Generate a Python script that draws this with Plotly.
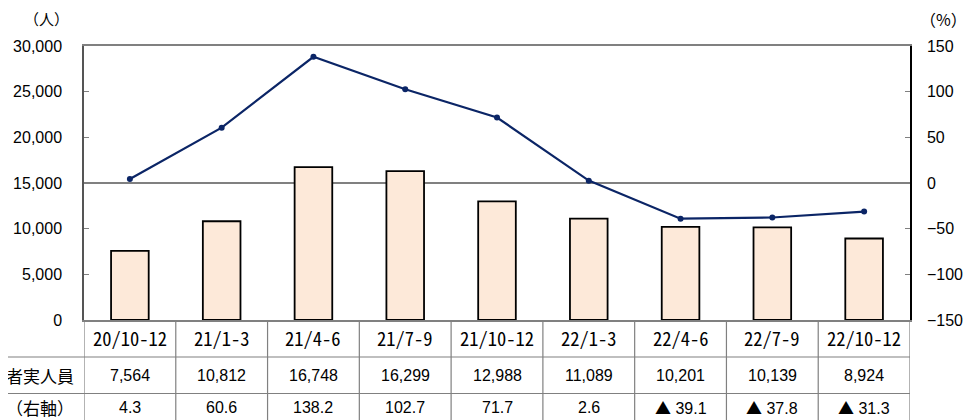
import plotly.graph_objects as go

quarters = ["20/10-12", "21/1-3", "21/4-6", "21/7-9", "21/10-12",
            "22/1-3", "22/4-6", "22/7-9", "22/10-12"]
persons = [7564, 10812, 16748, 16299, 12988, 11089, 10201, 10139, 8924]
yoy_pct = [4.3, 60.6, 138.2, 102.7, 71.7, 2.6, -39.1, -37.8, -31.3]
row_labels = ["利用者実人員", "前年同期比（右軸）"]

JP = "Noto Sans CJK JP, sans-serif"
MONO = "Noto Sans Mono CJK JP, DejaVu Sans Mono, monospace"
NUM = "Liberation Sans, Arial, sans-serif"
GRID = "#808080"
n = len(quarters)
xs = list(range(n))

fig = go.Figure()
fig.add_bar(x=xs, y=persons, width=0.41,
            marker=dict(color="#FDE9D9", line=dict(color="black", width=1.8)),
            name=row_labels[0])
fig.add_scatter(x=xs, y=yoy_pct, yaxis="y2", mode="lines+markers",
                line=dict(color="#0B2566", width=2.2),
                marker=dict(size=6, color="#0B2566"),
                name=row_labels[1])

# table under the chart (paper coords: bottom of plot = 0)
row_top = [0, -0.135, -0.2683, -0.40]
row_mid = [-0.066, -0.201, -0.318]

shapes = []
for i in range(n + 1):
    shapes.append(dict(type="line", xref="x", yref="paper", x0=i - 0.5, x1=i - 0.5,
                       y0=0, y1=row_top[-1], line=dict(color=GRID, width=1.2)))
for yy in row_top[1:3]:
    shapes.append(dict(type="line", xref="paper", yref="paper", x0=-0.12, x1=1,
                       y0=yy, y1=yy, line=dict(color=GRID, width=1.2)))


def fmt_pct(v):
    if v < 0:
        return f"<span style='font-family:Noto Sans CJK JP'>▲</span> {abs(v):.1f}"
    return f"{v:.1f}"


def cell(x, y, text, font, xref="x", xanchor="center"):
    return dict(x=x, y=y, xref=xref, yref="paper", text=text, showarrow=False,
                xanchor=xanchor, yanchor="middle", font=font)


ann = []
for i in range(n):
    ann.append(cell(i, row_mid[0], quarters[i], dict(family=MONO, size=18.5)))
    ann.append(cell(i, row_mid[1], f"{persons[i]:,}", dict(family=NUM, size=16)))
    ann.append(cell(i, row_mid[2], fmt_pct(yoy_pct[i]), dict(family=NUM, size=16)))
for k, lab in enumerate(row_labels):
    ann.append(cell(-0.0095, row_mid[k + 1], lab, dict(family=JP, size=17),
                    xref="paper", xanchor="right"))
ann.append(cell(-0.0448, 1.102, "（人）", dict(family=JP, size=15), xref="paper"))
ann.append(cell(1.04, 1.098, "（%）", dict(family=JP, size=16), xref="paper"))

# page has an 8px body margin, so the figure is 8px smaller than the window
fig.update_layout(
    width=963, height=412,
    margin=dict(l=76, r=61, t=38, b=100, autoexpand=False),
    paper_bgcolor="white", plot_bgcolor="white",
    font=dict(family=NUM, size=16, color="black"),
    showlegend=False,
    xaxis=dict(range=[-0.5, n - 0.5], showticklabels=False, ticks="",
               showgrid=False, zeroline=False, showline=True, linecolor=GRID,
               mirror=True, linewidth=1.5),
    yaxis=dict(range=[0, 30000], dtick=5000, tickformat=",", showgrid=False,
               zeroline=False, showline=True, linecolor="#555555", linewidth=1.5,
               ticks="inside", ticklen=5, tickcolor=GRID, ticklabelstandoff=17,
               automargin=False),
    yaxis2=dict(range=[-150, 150], dtick=50, overlaying="y", side="right",
                showgrid=False, zeroline=True, zerolinecolor=GRID, zerolinewidth=1.8,
                showline=True, linecolor="black", linewidth=1.5,
                ticks="inside", ticklen=5, tickcolor=GRID, ticklabelstandoff=12,
                automargin=False),
    shapes=shapes,
    annotations=ann,
)

fig.write_html("out.html")
